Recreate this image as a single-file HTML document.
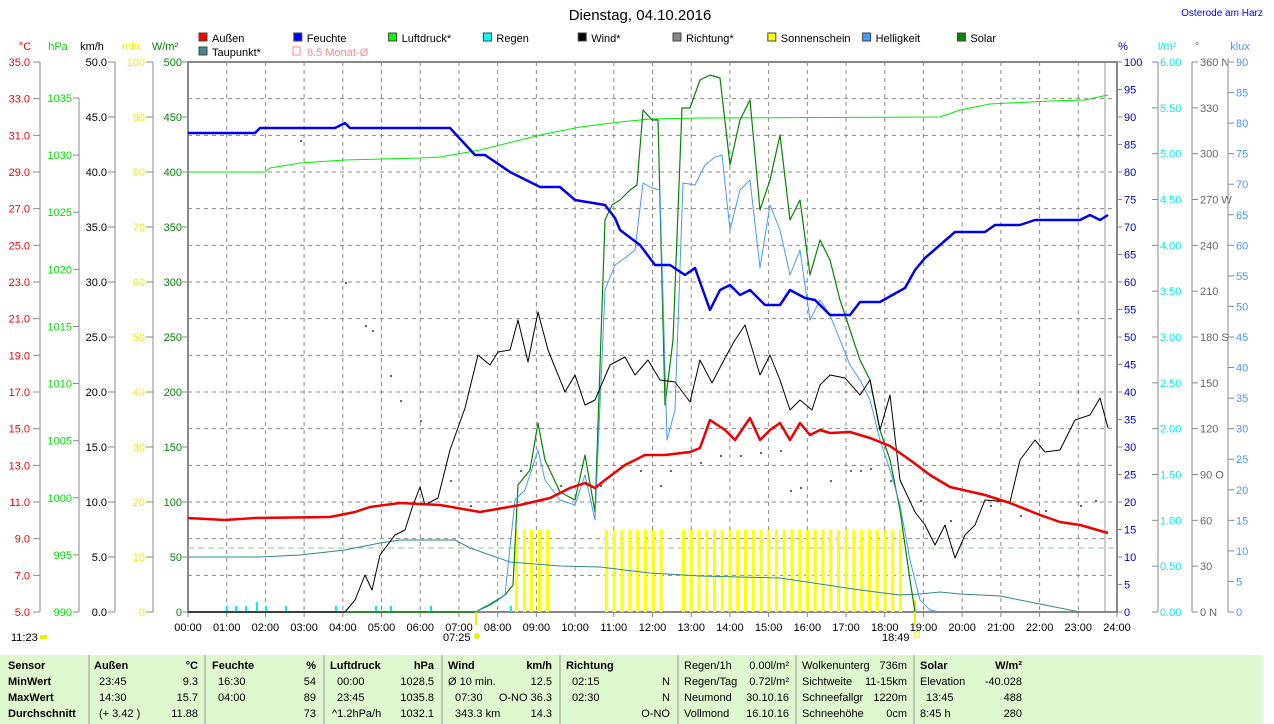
<!DOCTYPE html><html><head><meta charset="utf-8"><style>body{margin:0;background:#fff;width:1274px;height:724px;overflow:hidden}svg{display:block;font-family:"Liberation Sans",sans-serif}</style></head><body>
<svg id="s" width="1274" height="724" xmlns="http://www.w3.org/2000/svg"></svg>
<script>
var o='';function t(x,y,s,c,a,f,w){o+='<text x="'+x+'" y="'+y+'" fill="'+(c||'#000')+'" font-size="'+(f||11)+'" text-anchor="'+(a||'start')+'"'+(w?' font-weight="bold"':'')+'>'+s+'</text>';}
function l(x1,y1,x2,y2,c,w,d){o+='<line x1="'+x1+'" y1="'+y1+'" x2="'+x2+'" y2="'+y2+'" stroke="'+c+'" stroke-width="'+(w||1)+'"'+(d?' stroke-dasharray="'+d+'"':'')+'/>';}
function p(a,c,w){o+='<polyline fill="none" stroke="'+c+'" stroke-width="'+(w||1)+'" stroke-linejoin="round" points="'+a.map(function(v,i){return v}).join(' ')+'"/>';}
function r(x,y,w,h,c,s){o+='<rect x="'+x+'" y="'+y+'" width="'+w+'" height="'+h+'" fill="'+c+'"'+(s?' stroke="'+s+'"':'')+'/>';}
var X0=188,X1=1117,T=62,B=612,H=(X1-X0)/24;
// grid
for(var i=1;i<24;i++)l(X0+i*H,T,X0+i*H,B,'#888',1,'4,4');
for(var i=1;i<15;i++){var y=T+i*(B-T)/15;l(X0,y,X1,y,'#888',1,'4,4');}
l(1105,T,1105,B,'#999',1);
r(X0,T,X1-X0,B-T,'none','#888');o=o.replace(/fill="none" stroke="#888"\/>$/,'fill="none" stroke="#888" stroke-width="2"/>');
l(X0,B,X1,B,'#888',2);
for(var i=0;i<=24;i++){var x=X0+i*H;l(x,B,x,B+5,'#888');t(x,631,(i<10?'0':'')+i+':00','#000','middle');}
// left axes
for(var i=0;i<=15;i++){var y=T+i*(B-T)/15;t(30,y+4,(35-2*i).toFixed(1),'#f00','end');l(33,y,40,y,'#888');}
l(40,T,40,B,'#888');
for(var i=0;i<=9;i++){var y=B-i*(B-98)/9;t(72,y+4,990+5*i,'#0d0','end');l(73,y,79,y,'#888');}
l(79,98,79,B,'#888');
for(var i=0;i<=10;i++){var y=T+i*55;t(107,y+4,(50-5*i).toFixed(1),'#000','end');l(108,y,115,y,'#888');t(145,y+4,100-10*i,'#ee0','end');l(146,y,153,y,'#888');t(182,y+4,500-50*i,'#080','end');l(182,y,187,y,'#888');}
l(115,T,115,B,'#888');l(153,T,153,B,'#888');
// right axes
for(var i=0;i<=20;i++){var y=T+i*27.5;l(X1,y,X1+5,y,'#888');if(true)t(X1+7,y+4,100-5*i,'#00c');}
for(var i=0;i<=12;i++){var y=T+i*(B-T)/12;l(1152,y,1158,y,'#888');t(1160,y+4,(6-0.5*i).toFixed(2),'#0ee');l(1192,y,1198,y,'#888');var d=360-30*i;t(1200,y+4,d+(d==360?' N':d==270?' W':d==180?' S':d==90?' O':d==0?' N':''),'#666');}
l(1158,T,1158,B,'#888');l(1192,T,1192,B,'#888');
for(var i=0;i<=18;i++){var y=T+i*(B-T)/18;l(1228,y,1234,y,'#888');t(1236,y+4,90-5*i,'#49f');}
l(1228,T,1228,B,'#888');
// unit labels
t(25,50,'°C','#f00','middle');t(58,50,'hPa','#0d0','middle');t(92,50,'km/h','#000','middle');t(131,50,'min','#ee0','middle');t(165,50,'W/m²','#080','middle');
t(1123,50,'%','#00c','middle');t(1167,50,'l/m²','#0ee','middle');t(1197,50,'°','#666','middle');t(1240,50,'klux','#49f','middle');
// title
t(640,20,'Dienstag, 04.10.2016','#000','middle',15);t(1222,16,'Osterode am Harz','#00f','middle',10);
// legend
var lg=[['Außen','#f00'],['Feuchte','#00f'],['Luftdruck*','#0f0'],['Regen','#0ff'],['Wind*','#000'],['Richtung*','#888'],['Sonnenschein','#ff0'],['Helligkeit','#49f'],['Solar','#080']];
lg.forEach(function(e,i){var x=199+i*94.8;r(x,33,8,8,e[1],'#444');t(x+13,42,e[0]);});
r(199,47,8,8,'#488','#444');t(212,56,'Taupunkt*');r(293,47,7,8,'none','#f88');t(307,56,'8.5 Monat-Ø','#f88');
// monat
l(X0,548,X1,548,'#8c8',1,'6,4');
// sunshine
var sx=[515,523,530,538,546];for(var x=605;x<=662;x+=7.8)sx.push(x);for(var x=682;x<=906;x+=7.75)sx.push(x);
sx.forEach(function(x){r(x,530,3,82,'#ff0');});
l(476,612,476,625,'#ee0',2);l(915,600,915,625,'#ee0',2);
// rain
[226,235,245,256,265,285,335,375,390,430,510].forEach(function(x,i){r(x,(i==3?602:606),2,(i==3?10:6),'#0ee');});
// direction dots
var dots=[[300,140],[345,282],[365,325],[372,330],[390,375],[400,400],[420,420],[450,480],[470,505],[520,470],[560,485],[600,485],[640,470],[660,485],[670,470],[700,462],[720,455],[740,455],[760,452],[780,450],[790,490],[800,487],[830,480],[850,470],[860,470],[870,468],[890,480],[920,500],[950,520],[990,505],[1020,515],[1045,510],[1080,505],[1095,500]];
dots.forEach(function(d){r(d[0],d[1],2,2,'#666');});
// series
p([188,557,260,557,300,555,345,550,380,543,400,540,455,540,470,548,510,562,560,566,600,567,650,573,700,576,780,578,860,590,900,595,920,594,940,592,960,594,1000,596,1040,604,1070,610,1080,612],'#388',1);
p([188,172,265,172,270,168,300,163,345,160,420,158,440,157,480,150,520,140,545,134,580,127,620,122,650,119,700,118,940,117,960,110,990,104,1050,101,1085,100,1108,95],'#0e0',1);
p([188,612,475,612,490,605,505,595,513,585,518,485,530,470,538,423,545,460,560,492,575,500,585,455,595,512,605,220,612,205,620,200,630,190,637,185,643,110,652,120,658,120,665,405,673,340,682,108,690,108,700,80,710,75,720,78,730,165,740,120,750,100,760,210,770,180,780,135,790,220,800,200,810,275,820,240,830,260,840,300,850,330,860,360,870,380,880,430,890,460,900,510,910,580,915,612],'#080',1.2);
p([475,612,505,595,515,500,525,490,538,450,545,480,560,500,575,505,585,475,595,520,605,290,615,265,625,258,635,250,643,183,652,188,660,190,667,440,675,410,683,183,695,185,705,165,715,157,722,155,730,230,740,190,750,180,760,268,770,205,780,230,790,275,800,250,810,320,820,300,830,315,840,340,850,365,860,380,870,400,880,440,890,470,900,505,910,560,920,600,930,610,940,612],'#49f',1);
p([188,612,345,612,355,600,365,575,372,590,380,555,395,535,405,530,412,508,420,487,425,505,438,498,450,450,465,408,478,355,490,365,498,352,510,350,518,320,528,362,538,312,548,350,565,392,575,375,585,405,595,400,610,365,625,357,635,375,648,360,660,380,675,382,690,402,700,360,712,383,725,358,735,340,745,325,760,375,770,355,780,380,790,410,800,400,812,410,820,385,830,375,845,378,860,395,870,380,880,430,890,395,900,480,915,512,925,525,935,545,945,525,955,558,965,535,975,525,985,500,1010,502,1020,460,1035,440,1045,452,1060,450,1075,420,1090,415,1100,398,1108,428],'#000',1);
p([188,518,225,520,255,518,330,517,355,512,370,507,400,503,440,505,480,512,520,505,550,498,570,488,585,483,595,488,605,480,625,465,645,455,665,455,690,452,700,448,710,420,725,430,735,440,750,418,760,440,770,430,780,423,790,440,800,423,810,435,820,430,830,433,850,432,870,438,890,446,910,460,930,475,950,487,985,495,1010,503,1040,515,1060,522,1080,525,1108,533],'#e00',2.5);
p([188,133,255,133,260,128,335,128,345,123,350,128,450,128,475,155,485,155,510,172,540,187,560,187,575,200,605,205,615,218,620,230,640,245,655,265,670,265,685,275,695,268,710,310,720,290,730,285,740,295,750,290,765,305,780,305,790,290,805,298,815,300,830,315,850,315,860,302,880,302,905,288,915,270,925,258,940,245,955,232,985,232,995,225,1020,225,1035,220,1080,220,1090,215,1100,220,1108,215],'#00e',2.5);
// time marks
t(11,641,'11:23');r(40,635,7,4,'#ee0');t(443,641,'07:25');o+='<circle cx="477" cy="636" r="3" fill="#ee0"/>';t(882,641,'18:49');r(914,632,5,5,'none','#ee0');
// table
r(0,655,1263,69,'#e0f8d0');
[89,205,324,442,560,678,796,914].forEach(function(x){l(x,655,x,724,'#999',1);});
var Y=[669,685,701,717];
t(8,Y[0],'Sensor','#000','start',11,1);t(8,Y[1],'MinWert','#000','start',11,1);t(8,Y[2],'MaxWert','#000','start',11,1);t(8,Y[3],'Durchschnitt','#000','start',11,1);
t(94,Y[0],'Außen','#000','start',11,1);t(198,Y[0],'°C','#000','end',11,1);t(99,Y[1],'23:45');t(198,Y[1],'9.3','#000','end');t(99,Y[2],'14:30');t(198,Y[2],'15.7','#000','end');t(99,Y[3],'(+ 3.42 )');t(198,Y[3],'11.88','#000','end');
t(212,Y[0],'Feuchte','#000','start',11,1);t(316,Y[0],'%','#000','end',11,1);t(218,Y[1],'16:30');t(316,Y[1],'54','#000','end');t(218,Y[2],'04:00');t(316,Y[2],'89','#000','end');t(316,Y[3],'73','#000','end');
t(330,Y[0],'Luftdruck','#000','start',11,1);t(434,Y[0],'hPa','#000','end',11,1);t(337,Y[1],'00:00');t(434,Y[1],'1028.5','#000','end');t(337,Y[2],'23:45');t(434,Y[2],'1035.8','#000','end');t(332,Y[3],'^1.2hPa/h');t(434,Y[3],'1032.1','#000','end');
t(448,Y[0],'Wind','#000','start',11,1);t(552,Y[0],'km/h','#000','end',11,1);t(448,Y[1],'Ø 10 min.');t(552,Y[1],'12.5','#000','end');t(455,Y[2],'07:30');t(552,Y[2],'O-NO 36.3','#000','end');t(455,Y[3],'343.3 km');t(552,Y[3],'14.3','#000','end');
t(566,Y[0],'Richtung','#000','start',11,1);t(572,Y[1],'02:15');t(670,Y[1],'N','#000','end');t(572,Y[2],'02:30');t(670,Y[2],'N','#000','end');t(670,Y[3],'O-NO','#000','end');
var c1=[['Regen/1h','0.00l/m²'],['Regen/Tag','0.72l/m²'],['Neumond','30.10.16'],['Vollmond','16.10.16']];
var c2=[['Wolkenunterg','736m'],['Sichtweite','11-15km'],['Schneefallgr','1220m'],['Schneehöhe','0cm']];
var c3=[['Elevation','-40.028'],['  13:45','488'],['8:45 h','280']];
for(var i=0;i<4;i++){t(684,Y[i],c1[i][0]);t(789,Y[i],c1[i][1],'#000','end');t(802,Y[i],c2[i][0]);t(907,Y[i],c2[i][1],'#000','end');}
t(920,Y[0],'Solar','#000','start',11,1);t(1022,Y[0],'W/m²','#000','end',11,1);
for(var i=0;i<3;i++){t(i==1?926:920,Y[i+1],c3[i][0].trim());t(1022,Y[i+1],c3[i][1],'#000','end');}
document.getElementById('s').innerHTML=o;
</script></body></html>
